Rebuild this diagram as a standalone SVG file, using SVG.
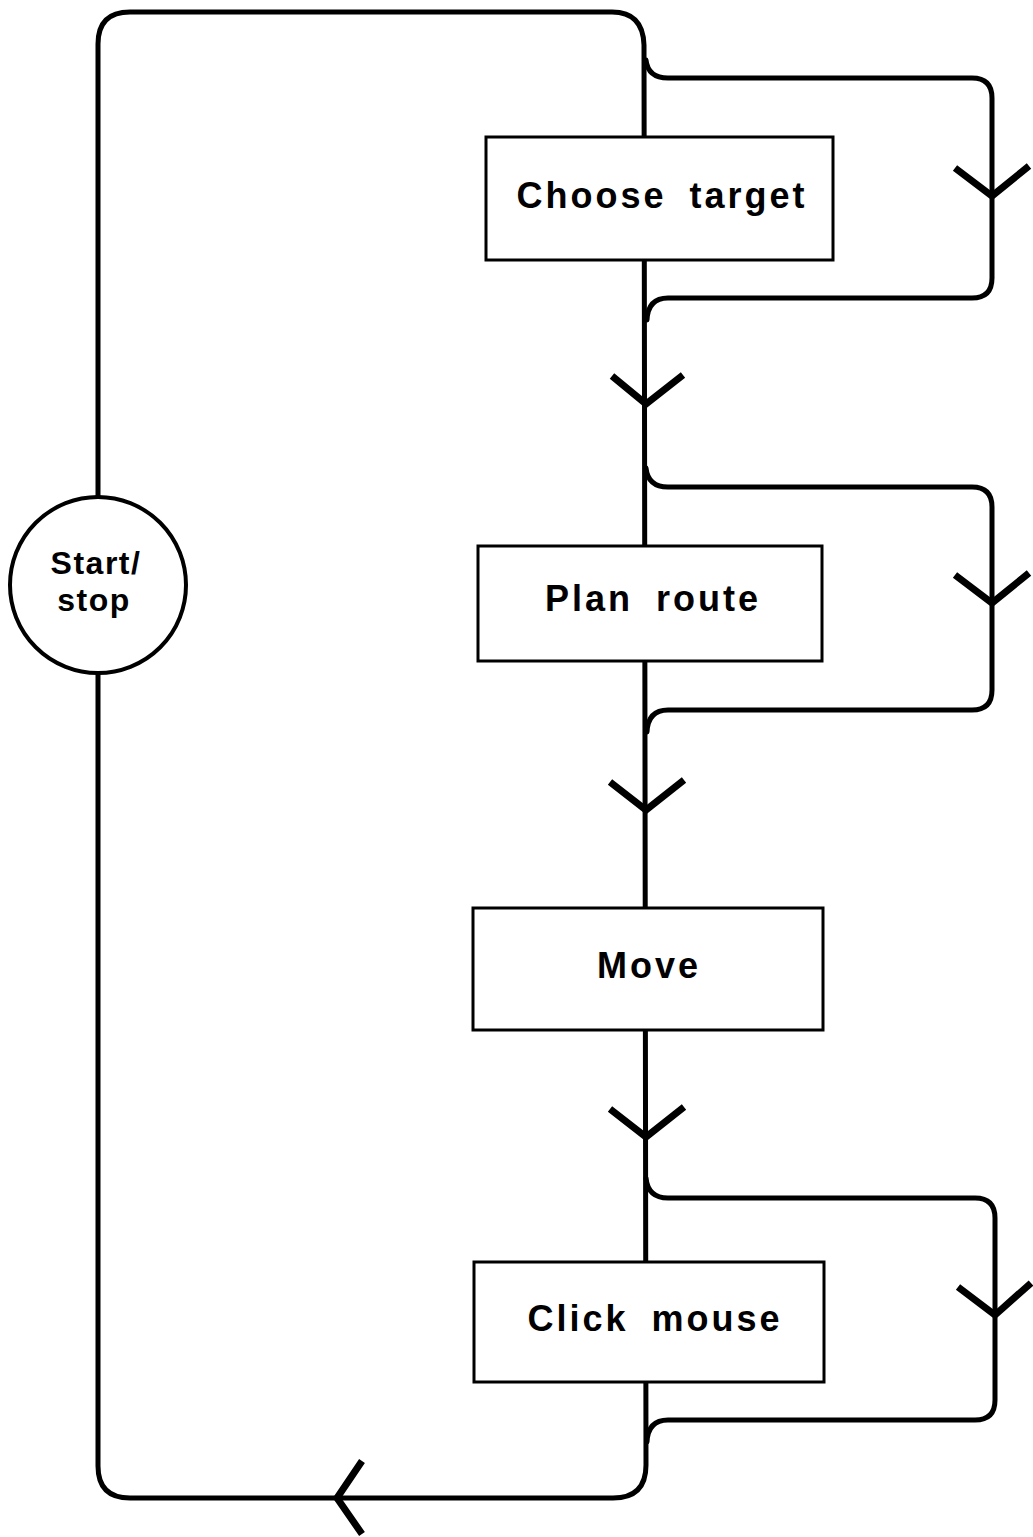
<svg xmlns="http://www.w3.org/2000/svg" width="1033" height="1537" viewBox="0 0 1033 1537">
<style>
.wire{fill:none;stroke:#000;stroke-width:5;stroke-linecap:round;stroke-linejoin:round}
.arr{fill:none;stroke:#000;stroke-width:7;stroke-linecap:butt;stroke-linejoin:miter}
.box{fill:#fff;stroke:#000;stroke-width:3}
.lbl{font-family:"Liberation Sans",Arial,sans-serif;font-weight:bold;font-size:36px;letter-spacing:3px;word-spacing:10px;text-anchor:middle;fill:#000}
.cl{font-size:32px;letter-spacing:1.5px}
</style>
<rect width="1033" height="1537" fill="#fff"/>
<g id="connectors">
<path class="wire" d="M98 497 L98 44 Q98 12 130 12 L612 12 Q643 12 644 45 L646 1465 Q646 1498 613 1498 L130 1498 Q98 1498 98 1466 L98 673"/>
<path class="wire" d="M646 60 Q648 78 668 78 L972 78 Q992 78 992 98 L992 278 Q992 298 972 298 L668 298 Q648 298 647 320"/>
<path class="wire" d="M646 468 Q648 487 668 487 L972 487 Q992 487 992 507 L992 690 Q992 710 972 710 L668 710 Q648 710 647 732"/>
<path class="wire" d="M646 1178 Q648 1198 668 1198 L975 1198 Q995 1198 995 1218 L995 1400 Q995 1420 975 1420 L668 1420 Q648 1420 647 1442"/>
<path class="arr" d="M955 168 L992 196 L1029 166"/>
<path class="arr" d="M955 575 L992 603 L1029 573"/>
<path class="arr" d="M958 1287 L995 1315 L1031 1283"/>
<path class="arr" d="M612 376 L646 404 L683 375"/>
<path class="arr" d="M610 782 L646 810 L684 780"/>
<path class="arr" d="M610 1109 L646 1137 L684 1107"/>
<path class="arr" d="M362 1461 L337 1498 L362 1534"/>
</g>
<g id="start-stop">
<circle cx="98" cy="585" r="88" fill="#fff" stroke="#000" stroke-width="4"/>
<text class="lbl cl" x="96" y="574">Start/</text>
<text class="lbl cl" x="94" y="611">stop</text>
</g>
<g id="choose-target">
<rect class="box" x="486" y="137" width="347" height="123"/>
<text class="lbl" x="662" y="208">Choose target</text>
</g>
<g id="plan-route">
<rect class="box" x="478" y="546" width="344" height="115"/>
<text class="lbl" x="653" y="611">Plan route</text>
</g>
<g id="move">
<rect class="box" x="473" y="908" width="350" height="122"/>
<text class="lbl" x="649" y="978">Move</text>
</g>
<g id="click-mouse">
<rect class="box" x="474" y="1262" width="350" height="120"/>
<text class="lbl" x="655" y="1331">Click mouse</text>
</g>
</svg>
